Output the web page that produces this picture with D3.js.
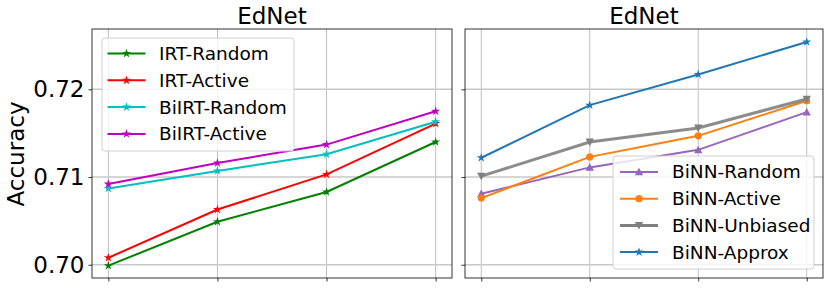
<!DOCTYPE html>
<html><head><meta charset="utf-8">
<script src="https://cdn.jsdelivr.net/npm/d3@7/dist/d3.min.js"></script>
<style>body{margin:0;background:#fff;} text{font-family:"DejaVu Sans",sans-serif;}</style>
</head><body>
<svg id="c" width="830" height="288"></svg>
<script>
const xIdx = [0, 1, 2, 3];
const yTicks = [0.70, 0.71, 0.72];
const titles = ["EdNet", "EdNet"];
const yLabel = "Accuracy";

const irtRandom   = [0.6999, 0.7049, 0.7083, 0.7140];
const irtActive   = [0.7008, 0.7063, 0.7103, 0.7161];
const bilrtRandom = [0.7087, 0.7107, 0.7126, 0.7163];
const bilrtActive = [0.7092, 0.7116, 0.7137, 0.7175];

const binnRandom   = [0.7081, 0.7111, 0.7131, 0.7174];
const binnActive   = [0.7076, 0.7123, 0.7147, 0.7187];
const binnUnbiased = [0.7101, 0.7140, 0.7156, 0.7189];
const binnApprox   = [0.7122, 0.7182, 0.7217, 0.7254];

const leftSeries = [
  {name:"IRT-Random", values:irtRandom, color:"#008000", marker:"star"},
  {name:"IRT-Active", values:irtActive, color:"#ff0000", marker:"star"},
  {name:"BiIRT-Random", values:bilrtRandom, color:"#00bfbf", marker:"star"},
  {name:"BiIRT-Active", values:bilrtActive, color:"#bf00bf", marker:"star"}
];
const rightSeries = [
  {name:"BiNN-Random", values:binnRandom, color:"#9467bd", marker:"triUp"},
  {name:"BiNN-Active", values:binnActive, color:"#ff7f0e", marker:"circle"},
  {name:"BiNN-Unbiased", values:binnUnbiased, color:"#7f7f7f", marker:"triDown", width:3},
  {name:"BiNN-Approx", values:binnApprox, color:"#1f77b4", marker:"star"}
];

const svg = d3.select("#c");
const yTop = 29, yBottom = 278;
const y = d3.scaleLinear().domain([0.69849, 0.72688]).range([yBottom, yTop]);

function marker(g, type, color, cx, cy) {
  if (type === "circle") {
    g.append("circle").attr("cx", cx).attr("cy", cy).attr("r", 3.6).attr("fill", color);
  } else if (type === "star") {
    g.append("path").attr("d", d3.symbol().type(d3.symbolStar).size(26)())
      .attr("transform", `translate(${cx},${cy})`).attr("fill", color);
  } else {
    const s = 4.2;
    const d = type === "triUp" ? `M0,${-s}L${s},${s*0.8}L${-s},${s*0.8}Z` : `M0,${s}L${s},${-s*0.8}L${-s},${-s*0.8}Z`;
    g.append("path").attr("d", d).attr("transform", `translate(${cx},${cy})`).attr("fill", color);
  }
}

function panel(x0, x1, series, title, showLabels, legend) {
  const x = d3.scaleLinear().domain([-0.15, 3.15]).range([x0, x1]);
  const g = svg.append("g");
  g.selectAll(".gx").data(xIdx).enter().append("line")
    .attr("x1", d => x(d)).attr("x2", d => x(d)).attr("y1", yTop).attr("y2", yBottom)
    .attr("stroke", "#b0b0b0").attr("stroke-width", 0.8);
  g.selectAll(".gy").data(yTicks).enter().append("line")
    .attr("x1", x0).attr("x2", x1).attr("y1", d => y(d)).attr("y2", d => y(d))
    .attr("stroke", "#c8c8c8").attr("stroke-width", 1.5);
  const ax = g.append("g").attr("transform", `translate(0,${yBottom})`)
    .call(d3.axisBottom(x).tickValues(xIdx).tickFormat("").tickSize(3.5).tickSizeOuter(0));
  ax.select(".domain").remove();
  ax.selectAll("line").attr("stroke", "#000").attr("stroke-width", 0.8);
  const ay = g.append("g").attr("transform", `translate(${x0},0)`)
    .call(d3.axisLeft(y).tickValues(yTicks).tickFormat(showLabels ? d3.format(".2f") : "").tickSize(3.5).tickSizeOuter(0).tickPadding(4));
  ay.select(".domain").remove();
  ay.selectAll("line").attr("stroke", "#000").attr("stroke-width", 0.8);
  ay.selectAll("text").attr("font-size", 23).attr("font-family", "DejaVu Sans").attr("fill", "#000");
  const line = d3.line().x((d, i) => x(xIdx[i])).y(d => y(d));
  series.forEach(s => {
    g.append("path").attr("d", line(s.values)).attr("fill", "none")
      .attr("stroke", s.color).attr("stroke-width", s.width || 2).attr("stroke-opacity", s.width ? 0.9 : 1);
    s.values.forEach((v, i) => marker(g, s.marker, s.color, x(xIdx[i]), y(v)));
  });
  g.append("rect").attr("x", x0).attr("y", yTop).attr("width", x1 - x0).attr("height", yBottom - yTop)
    .attr("fill", "none").attr("stroke", "#000").attr("stroke-width", 0.8);
  g.append("text").attr("x", (x0 + x1) / 2).attr("y", 24).attr("text-anchor", "middle")
    .attr("font-size", 23).text(title);
  const lg = g.append("g");
  lg.append("rect").attr("x", legend.x).attr("y", legend.y).attr("width", legend.w).attr("height", legend.h)
    .attr("rx", 3).attr("fill", "#fff").attr("fill-opacity", 0.8).attr("stroke", "#d0d0d0").attr("stroke-width", 1);
  series.forEach((s, i) => {
    const ly = legend.y0 + i * legend.dy;
    lg.append("line").attr("x1", legend.lx).attr("x2", legend.lx + 38).attr("y1", ly).attr("y2", ly)
      .attr("stroke", s.color).attr("stroke-width", s.width || 2);
    marker(lg, s.marker, s.color, legend.lx + 19, ly);
    lg.append("text").attr("x", legend.tx).attr("y", ly).attr("dy", "0.35em")
      .attr("font-size", 18.5).text(s.name);
  });
}

panel(92, 452, leftSeries, titles[0], true, {x:102, y:38, w:192, h:113, y0:53.5, dy:26.8, lx:107.5, tx:159});
panel(465, 823, rightSeries, titles[1], false, {x:613, y:156, w:201, h:113, y0:172, dy:26.7, lx:620, tx:672});

svg.append("text").attr("transform", "translate(24,154) rotate(-90)").attr("text-anchor", "middle")
  .attr("font-size", 23).text(yLabel);
</script>
</body></html>
